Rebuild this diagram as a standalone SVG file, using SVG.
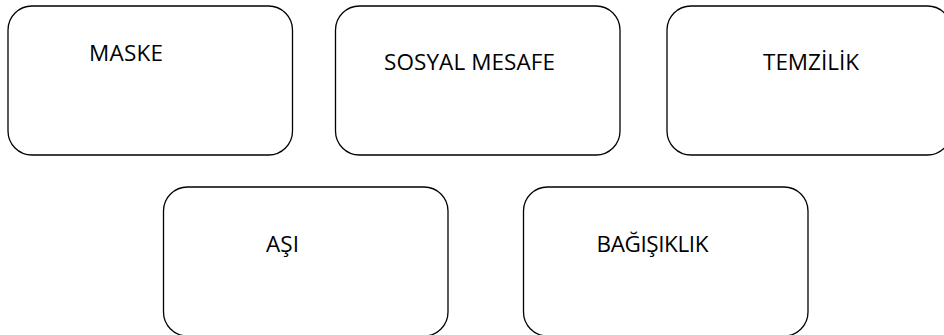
<svg xmlns="http://www.w3.org/2000/svg" width="944" height="335" viewBox="0 0 944 335">
<style>
.box{fill:#fff;stroke:#000;stroke-width:1.3}
.lbl{font-family:"Open Sans","Noto Sans",sans-serif;font-size:22.5px;fill:#000}
</style>
<rect width="944" height="335" fill="#fff"/>
<g id="connectors"></g>
<g id="node-maske">
<rect class="box" x="8" y="6" width="284.5" height="149" rx="24" ry="24"/>
<text class="lbl" x="89" y="60.5" textLength="74">MASKE</text>
</g>
<g id="node-sosyal-mesafe">
<rect class="box" x="335.5" y="6" width="284.5" height="149" rx="24" ry="24"/>
<text class="lbl" x="384" y="69.5" textLength="171">SOSYAL MESAFE</text>
</g>
<g id="node-temizlik">
<rect class="box" x="667" y="6" width="284.5" height="149" rx="24" ry="24"/>
<text class="lbl" x="763" y="69.5" textLength="96">TEMZİLİK</text>
</g>
<g id="node-asi">
<rect class="box" x="163.5" y="187" width="284.5" height="149" rx="24" ry="24"/>
<text class="lbl" x="266" y="251.5" textLength="33">AŞI</text>
</g>
<g id="node-bagisiklik">
<rect class="box" x="523.5" y="187" width="284.5" height="149" rx="24" ry="24"/>
<text class="lbl" x="596.5" y="251.5" textLength="112">BAĞIŞIKLIK</text>
</g>
</svg>
